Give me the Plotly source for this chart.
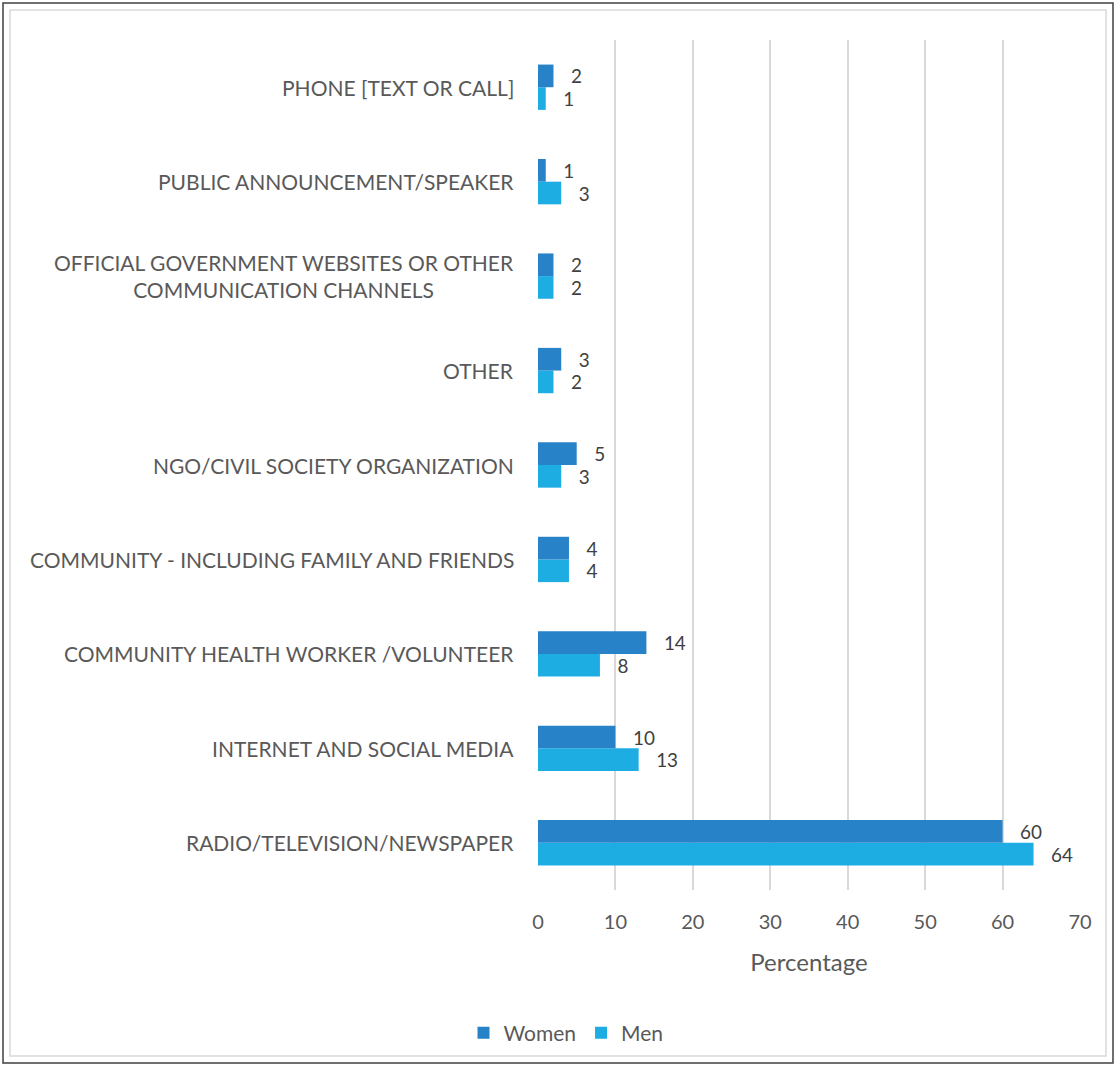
import plotly.graph_objects as go

# Sources of information, listed bottom to top as drawn on the category axis
categories = [
    "RADIO/TELEVISION/NEWSPAPER",
    "INTERNET AND SOCIAL MEDIA",
    "COMMUNITY HEALTH WORKER /VOLUNTEER",
    "COMMUNITY - INCLUDING FAMILY AND FRIENDS",
    "NGO/CIVIL SOCIETY ORGANIZATION",
    "OTHER",
    "OFFICIAL GOVERNMENT WEBSITES OR OTHER<br>COMMUNICATION CHANNELS",
    "PUBLIC ANNOUNCEMENT/SPEAKER",
    "PHONE [TEXT OR CALL]",
]
women = [60, 10, 14, 4, 5, 3, 2, 1, 2]
men = [64, 13, 8, 4, 3, 2, 2, 3, 1]
x_ticks = [0, 10, 20, 30, 40, 50, 60, 70]

W, H = 1117, 1066
ML, MR, MT, MB = 538, 37, 40, 176
PW, PH = W - ML - MR, H - MT - MB

def px_x(x):
    return (x - ML) / PW

def px_y(y):
    return (H - MB - y) / PH

FONT = "Lato"
WOMEN_C = "#2882C8"
MEN_C = "#1EADE3"
TXT = "#595959"

fig = go.Figure()
fig.add_trace(go.Bar(
    y=categories, x=men, name="Men", orientation="h",
    marker=dict(color=MEN_C, line=dict(width=0)),
    text=[f"   {v}" for v in men], textposition="outside",
    textfont=dict(family=FONT, size=20, color="#404040"),
    cliponaxis=False,
))
fig.add_trace(go.Bar(
    y=categories, x=women, name="Women", orientation="h",
    marker=dict(color=WOMEN_C, line=dict(width=0)),
    text=[f"   {v}" for v in women], textposition="outside",
    textfont=dict(family=FONT, size=20, color="#404040"),
    cliponaxis=False,
))

# Category labels, right-aligned next to the axis, multi-line text centred
for c in categories:
    fig.add_annotation(
        x=0, xref="paper", y=c, yref="y", xanchor="right", xshift=-22,
        text=c, showarrow=False, align="center",
        font=dict(family=FONT, size=21, color=TXT),
    )

# Chart frame: dark outer border with a light inner border
fig.add_shape(type="rect", xref="paper", yref="paper",
              x0=px_x(3), x1=px_x(1113), y0=px_y(1063), y1=px_y(3),
              line=dict(color="#404040", width=1.5), layer="below")
fig.add_shape(type="rect", xref="paper", yref="paper",
              x0=px_x(10), x1=px_x(1106), y0=px_y(1056), y1=px_y(10),
              line=dict(color="#D9D9D9", width=1.5), layer="below")

fig.update_layout(
    width=W, height=H,
    margin=dict(l=ML, r=MR, t=MT, b=MB),
    paper_bgcolor="white", plot_bgcolor="white",
    barmode="group", bargap=0.52, bargroupgap=0,
    font=dict(family=FONT, size=20, color=TXT),
    showlegend=True,
    legend=dict(
        orientation="h", traceorder="reversed",
        x=px_x(566), xanchor="center", y=px_y(1033), yanchor="middle",
        font=dict(family=FONT, size=21, color=TXT),
        itemwidth=30,
    ),
    xaxis=dict(
        range=[0, 70], tickvals=x_ticks,
        showgrid=True, gridcolor="#D9D9D9", gridwidth=1.5,
        zeroline=False, showline=False,
        ticks="outside", ticklen=14, tickcolor="rgba(0,0,0,0)",
        tickfont=dict(family=FONT, size=20, color=TXT),
        title=dict(text="Percentage", standoff=22,
                   font=dict(family=FONT, size=24, color=TXT)),
    ),
    yaxis=dict(
        categoryorder="array", categoryarray=categories,
        showticklabels=False, showgrid=False, zeroline=False,
        showline=False, range=[-0.5, len(categories) - 0.5],
    ),
)

fig.write_html("out.html")
